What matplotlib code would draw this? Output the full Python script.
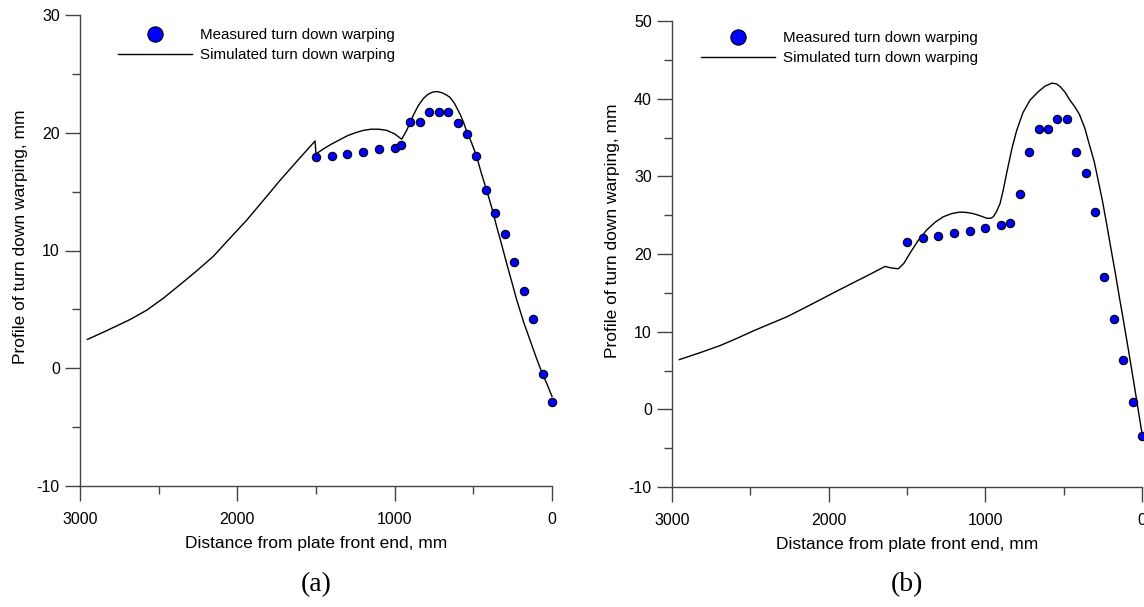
import matplotlib
matplotlib.use("Agg")
import matplotlib.pyplot as plt
from matplotlib.lines import Line2D
from matplotlib.ticker import MultipleLocator

plt.rcParams["font.family"] = ["Liberation Sans", "DejaVu Sans"]
plt.rcParams["axes.unicode_minus"] = False

# (a) measured points
meas_a_x = [1500, 1400, 1300, 1200, 1100, 1000, 960, 900, 840, 780, 720, 660,
            600, 540, 480, 420, 360, 300, 240, 180, 120, 60, 0]
meas_a_y = [17.9, 18.0, 18.2, 18.4, 18.6, 18.7, 19.0, 20.9, 20.9, 21.8, 21.8, 21.8,
            20.8, 19.9, 18.0, 15.1, 13.2, 11.4, 9.0, 6.6, 4.2, -0.5, -2.9]

# (a) simulated curve
sim_a_x = [2953, 2870, 2788, 2680, 2576, 2470, 2364, 2260, 2153, 2050, 1941, 1835,
           1729, 1620, 1506, 1500, 1450, 1400, 1350, 1300, 1250, 1200, 1150, 1100,
           1050, 1000, 955, 924, 900, 881, 850, 818, 790, 760, 729, 700, 670, 648,
           620, 585, 560, 542, 510, 479, 450, 415, 380, 351, 320, 288, 256, 224,
           180, 140, 100, 62, 30, 0]
sim_a_y = [2.45, 2.95, 3.46, 4.15, 4.93, 5.95, 7.1, 8.25, 9.5, 11.0, 12.57, 14.25,
           15.95, 17.6, 19.3, 18.2, 18.65, 19.05, 19.4, 19.75, 20.0, 20.2, 20.3, 20.3,
           20.2, 19.9, 19.45, 20.2, 20.9, 21.5, 22.3, 22.9, 23.25, 23.45, 23.5, 23.4, 23.2, 23.0,
           22.5, 21.6, 20.8, 20.1, 19.1, 18.0, 16.6, 15.1, 13.5, 12.0, 10.5, 8.9, 7.35, 5.8,
           3.9, 2.4, 0.9, -0.45, -1.4, -2.4]

# (b) measured points
meas_b_x = [1500, 1400, 1300, 1200, 1100, 1000, 900, 840, 780, 720, 660, 600,
            540, 480, 420, 360, 300, 240, 180, 120, 60, 0]
meas_b_y = [21.6, 22.0, 22.3, 22.7, 23.0, 23.3, 23.7, 24.0, 27.7, 33.1, 36.1, 36.1,
            37.4, 37.4, 33.1, 30.4, 25.4, 17.0, 11.6, 6.3, 0.9, -3.4]

# (b) simulated curve
sim_b_x = [2953, 2820, 2694, 2590, 2481, 2375, 2268, 2160, 2055, 1950, 1843, 1740,
           1640, 1600, 1555, 1520, 1481, 1430, 1374, 1320, 1268, 1215, 1162, 1120,
           1077, 1030, 991, 965, 949, 930, 906, 885, 864, 830, 800, 760, 715, 662,
           620, 576, 545, 520, 490, 460, 430, 400, 365, 332, 305, 280, 253, 226,
           200, 170, 145, 119, 88, 55, 28, 0]
sim_b_y = [6.4, 7.3, 8.2, 9.1, 10.1, 11.0, 11.9, 13.0, 14.1, 15.2, 16.3, 17.35,
           18.4, 18.2, 18.1, 18.8, 20.1, 21.7, 23.1, 24.1, 24.8, 25.2, 25.4, 25.35,
           25.2, 24.9, 24.6, 24.6, 24.8, 25.4, 26.5, 28.3, 30.4, 33.6, 35.9, 38.2, 39.8, 40.9,
           41.6, 42.0, 41.9, 41.5, 40.8, 39.8, 39.0, 38.0, 36.2, 33.8, 31.9, 29.5, 26.9, 23.9,
           20.9, 17.5, 14.5, 11.5, 7.8, 3.8, 0.4, -3.1]

panels = [
    ([80 / 1144, 1 - 486 / 607, 472 / 1144, 471 / 607], (-10, 30),
     meas_a_x, meas_a_y, sim_a_x, sim_a_y, "(a)", 0.074, 0.979, 0.53),
    ([672 / 1144, 1 - 487 / 607, 470 / 1144, 466 / 607], (-10, 50),
     meas_b_x, meas_b_y, sim_b_x, sim_b_y, "(b)", 0.055, 0.985, 0.55),
]

fig = plt.figure(figsize=(11.44, 6.07), dpi=100)

for rect, ylim, mx, my, sx, sy, tag, leg_x, leg_y, ylab_y in panels:
    ax = fig.add_axes(rect)
    ax.plot(sx, sy, color="black", lw=1.0, clip_on=False, zorder=2)
    ax.plot(mx, my, "o", color="#0000ff", mec="black", mew=0.8, ms=6,
            ls="none", clip_on=False, zorder=3)

    ax.set_xlim(3000, 0)
    ax.set_ylim(*ylim)
    ax.xaxis.set_major_locator(MultipleLocator(1000))
    ax.xaxis.set_minor_locator(MultipleLocator(500))
    ax.yaxis.set_major_locator(MultipleLocator(10))
    ax.yaxis.set_minor_locator(MultipleLocator(5))

    for s in ["top", "right"]:
        ax.spines[s].set_visible(False)
    for s in ["left", "bottom"]:
        ax.spines[s].set_color("#444444")
        ax.spines[s].set_linewidth(1.0)
    ax.tick_params(which="major", direction="out", length=11, width=1.0,
                   color="#444444", labelsize=11.5)
    ax.tick_params(which="minor", direction="out", length=5.5, width=1.0,
                   color="#444444")
    ax.tick_params(axis="x", which="major", pad=7.5)
    ax.tick_params(axis="y", which="major", pad=3.5)

    ax.set_xlabel("Distance from plate front end, mm", fontsize=12.5, labelpad=7)
    ax.set_ylabel("Profile of turn down warping, mm", fontsize=12.5)
    ax.yaxis.set_label_coords(-0.111, ylab_y)

    handles = [
        Line2D([], [], marker="o", ls="none", color="#0000ff", mec="black",
               mew=0.8, ms=11),
        Line2D([], [], color="black", lw=1.0),
    ]
    ax.legend(handles, ["Measured turn down warping", "Simulated turn down warping"],
              loc="upper left", bbox_to_anchor=(leg_x, leg_y), frameon=False,
              fontsize=10.9, handlelength=4.9, handletextpad=0.55,
              labelspacing=0.4, borderpad=0.2, borderaxespad=0)

    cx = rect[0] + rect[2] / 2
    fig.text(cx, 1 - 585 / 607, tag, family=["Liberation Serif", "DejaVu Serif"],
             fontsize=20, ha="center", va="center")

fig.savefig("out.png", dpi=100)
